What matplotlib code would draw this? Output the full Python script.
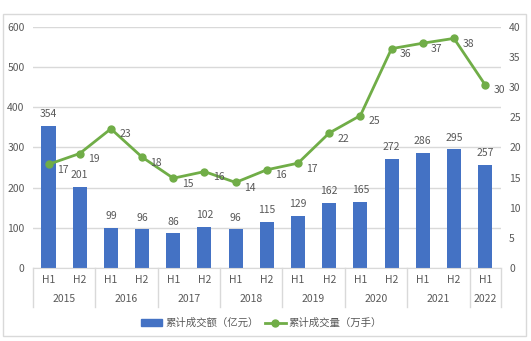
import matplotlib.pyplot as plt
from matplotlib.patches import Rectangle

plt.rcParams['font.family'] = ['Noto Sans CJK SC', 'DejaVu Sans']

# ==============================
# DONNEES
# ==============================
years = ['2015', '2016', '2017', '2018', '2019', '2020', '2021', '2022']
halves = ['H1', 'H2', 'H1', 'H2', 'H1', 'H2', 'H1', 'H2', 'H1', 'H2',
          'H1', 'H2', 'H1', 'H2', 'H1', 'H2', 'H1']
amount = [354, 201, 99, 96, 86, 102, 96, 115, 129, 162, 165, 272, 286, 295, 257]
volume = [17.2, 19.0, 23.1, 18.4, 14.9, 16.0, 14.2, 16.3, 17.4, 22.4, 25.3,
          36.4, 37.3, 38.1, 30.4]
halves = halves[:len(amount)]
year_span = [2, 2, 2, 2, 2, 2, 2, 1]

BAR_COLOR = '#4472C4'
LINE_COLOR = '#70AD47'
TEXT_COLOR = '#595959'
GRID_COLOR = '#D9D9D9'

fig = plt.figure(figsize=(5.31, 3.41), dpi=100)
ax = fig.add_axes([0.062, 0.214, 0.881, 0.707])
ax2 = ax.twinx()

x = list(range(len(amount)))

# barres
ax.bar(x, amount, width=0.45, color=BAR_COLOR, zorder=2)
for xi, v in zip(x, amount):
    ax.annotate(f'{v}', (xi, v), xytext=(0, 5), textcoords='offset points',
                ha='center', va='bottom', fontsize=7.5, color=TEXT_COLOR)

ax.set_ylim(0, 600)
ax.set_yticks(range(0, 601, 100))
ax.set_xlim(-0.5, len(amount) - 0.5)
ax.grid(axis='y', color=GRID_COLOR, linewidth=1, zorder=0)
ax.set_axisbelow(True)

# ligne
ax2.plot(x, volume, color=LINE_COLOR, linewidth=2, marker='o', markersize=5, zorder=3)
for xi, v in zip(x, volume):
    ax2.annotate(f'{v:.0f}', (xi, v), xytext=(6, -4), textcoords='offset points',
                 ha='left', va='center', fontsize=7.5, color=TEXT_COLOR)
ax2.set_ylim(0, 40)
ax2.set_yticks(range(0, 41, 5))

for a in (ax, ax2):
    for s in a.spines.values():
        s.set_visible(False)
    a.tick_params(axis='y', length=0, labelsize=7.5, labelcolor=TEXT_COLOR, pad=6)
ax.tick_params(axis='x', length=0, labelbottom=False)
ax.spines['bottom'].set_visible(True)
ax.spines['bottom'].set_color(GRID_COLOR)

# axe des categories a deux niveaux
tr = ax.get_xaxis_transform()
for xi, h in zip(x, halves):
    ax.text(xi, -0.05, h, transform=tr, ha='center', va='center',
            fontsize=7.5, color=TEXT_COLOR)
start = 0
for yr, span in zip(years, year_span):
    ax.text(start - 0.5 + span / 2, -0.13, yr, transform=tr, ha='center',
            va='center', fontsize=7.5, color=TEXT_COLOR)
    ax.plot([start - 0.5, start - 0.5], [0, -0.162], transform=tr,
            color=GRID_COLOR, linewidth=1, clip_on=False)
    start += span
ax.plot([start - 0.5, start - 0.5], [0, -0.162], transform=tr,
        color=GRID_COLOR, linewidth=1, clip_on=False)

# legende
h1 = plt.Rectangle((0, 0), 1, 1, color=BAR_COLOR)
h2, = ax2.plot([], [], color=LINE_COLOR, linewidth=2, marker='o', markersize=5)
leg = fig.legend([h1, h2], ['累计成交额（亿元）', '累计成交量（万手）'], loc='center',
                 bbox_to_anchor=(0.493, 0.053), ncol=2, frameon=False, fontsize=7.5,
                 handlelength=2.0, handleheight=0.6, handletextpad=0.3,
                 columnspacing=0.6)
for t in leg.get_texts():
    t.set_color(TEXT_COLOR)

# cadre
fig.patches.append(Rectangle((3 / 531, 5 / 341), 523 / 531, 322 / 341,
                             transform=fig.transFigure, fill=False,
                             edgecolor=GRID_COLOR, linewidth=1))

fig.savefig('out.png', dpi=100)
